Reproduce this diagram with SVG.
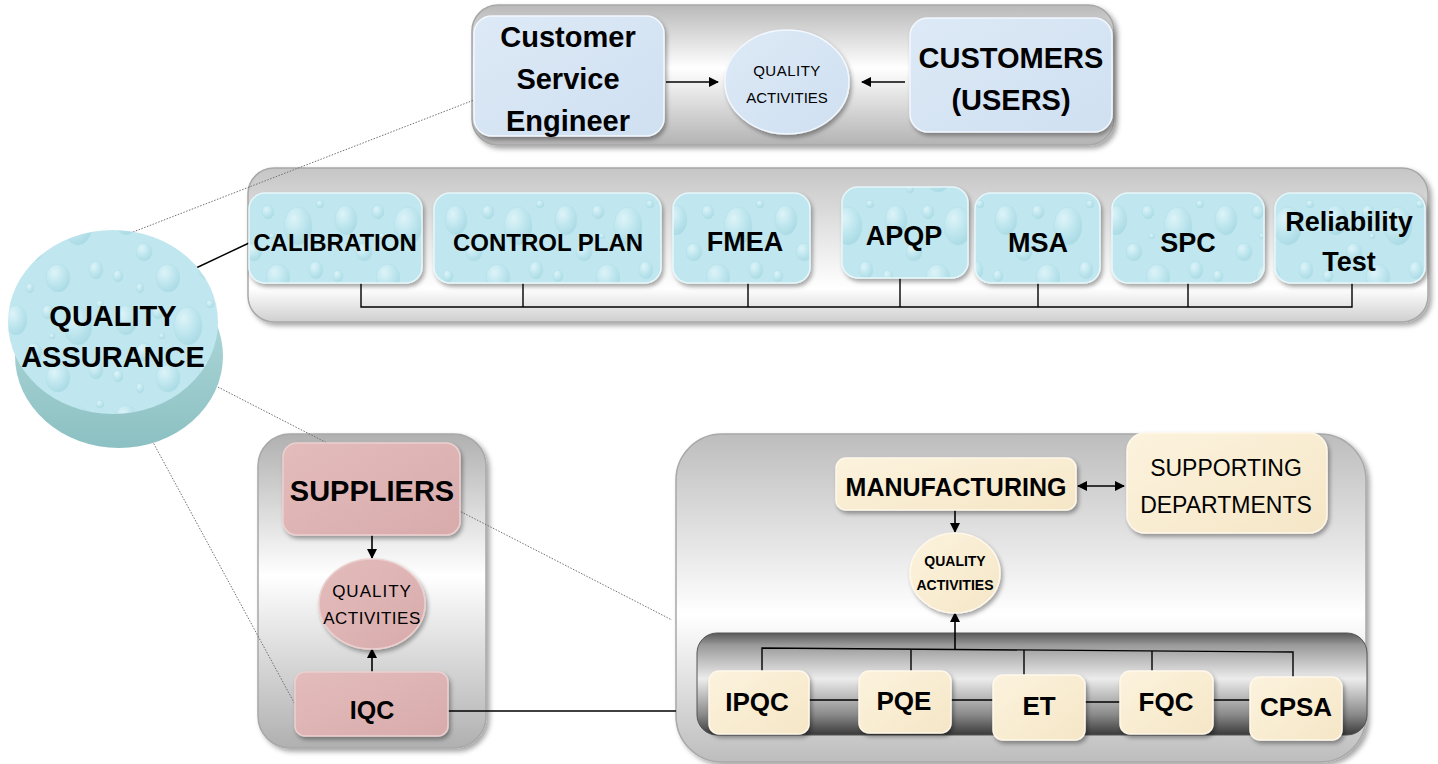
<svg xmlns="http://www.w3.org/2000/svg" width="1438" height="764" viewBox="0 0 1438 764">
<defs>
  <linearGradient id="gTop" x1="0" y1="0" x2="0" y2="1">
    <stop offset="0" stop-color="#b9b9b9"/><stop offset="0.45" stop-color="#ffffff"/><stop offset="1" stop-color="#b3b3b3"/>
  </linearGradient>
  <linearGradient id="gMid" x1="0" y1="0" x2="0" y2="1">
    <stop offset="0" stop-color="#c6c6c6"/><stop offset="0.78" stop-color="#ffffff"/><stop offset="1" stop-color="#cfcfcf"/>
  </linearGradient>
  <linearGradient id="gSup" x1="0" y1="0" x2="0" y2="1">
    <stop offset="0" stop-color="#b0b0b0"/><stop offset="0.45" stop-color="#ffffff"/><stop offset="1" stop-color="#b0b0b0"/>
  </linearGradient>
  <linearGradient id="gMfg" x1="0" y1="0" x2="0" y2="1">
    <stop offset="0" stop-color="#bdbdbd"/><stop offset="0.55" stop-color="#ffffff"/><stop offset="1" stop-color="#bdbdbd"/>
  </linearGradient>
  <linearGradient id="gBar" x1="0" y1="0" x2="0" y2="1">
    <stop offset="0" stop-color="#5a5a5a"/><stop offset="0.12" stop-color="#9a9a9a"/><stop offset="0.45" stop-color="#ececec"/><stop offset="0.8" stop-color="#8a8a8a"/><stop offset="1" stop-color="#3a3a3a"/>
  </linearGradient>
  <linearGradient id="gSide" x1="0" y1="0" x2="0" y2="1">
    <stop offset="0" stop-color="#b8dfe0"/><stop offset="1" stop-color="#8cc0c2"/>
  </linearGradient>
  <radialGradient id="drop" cx="0.35" cy="0.3" r="0.75">
    <stop offset="0" stop-color="#f4feff"/><stop offset="0.45" stop-color="#c6eaf1"/><stop offset="1" stop-color="#94cfdb"/>
  </radialGradient>
  <pattern id="pDrops" width="110" height="100" patternUnits="userSpaceOnUse">
    <rect width="110" height="100" fill="#c0e7ef"/>
    <g fill="url(#drop)" stroke="#a6d8e2" stroke-width="0.6" opacity="0.55">
      <ellipse cx="16" cy="20" rx="11" ry="15"/>
      <ellipse cx="48" cy="12" rx="6" ry="7"/>
      <ellipse cx="78" cy="26" rx="14" ry="19"/>
      <ellipse cx="34" cy="52" rx="8" ry="9"/>
      <ellipse cx="8" cy="76" rx="5" ry="6"/>
      <ellipse cx="58" cy="78" rx="12" ry="14"/>
      <ellipse cx="96" cy="70" rx="7" ry="9"/>
      <ellipse cx="30" cy="88" rx="4" ry="5"/>
      <ellipse cx="100" cy="4" rx="4" ry="4"/>
      <ellipse cx="52" cy="36" rx="3" ry="3"/>
    </g>
  </pattern>
  <linearGradient id="gCust" x1="0" y1="0" x2="1" y2="1">
    <stop offset="0" stop-color="#dde9f6"/><stop offset="1" stop-color="#cfe0f1"/>
  </linearGradient>
  <linearGradient id="gPink" x1="0" y1="0" x2="1" y2="1">
    <stop offset="0" stop-color="#e4bcbc"/><stop offset="1" stop-color="#d8abab"/>
  </linearGradient>
  <linearGradient id="gCream" x1="0" y1="0" x2="1" y2="1">
    <stop offset="0" stop-color="#fcf3de"/><stop offset="1" stop-color="#f5e6c6"/>
  </linearGradient>
  <filter id="sh" x="-10%" y="-10%" width="125%" height="130%">
    <feDropShadow dx="2" dy="3" stdDeviation="2" flood-color="#000" flood-opacity="0.35"/>
  </filter>
  <filter id="shC" x="-5%" y="-5%" width="112%" height="115%">
    <feDropShadow dx="3" dy="3" stdDeviation="2.5" flood-color="#000" flood-opacity="0.35"/>
  </filter>
  <marker id="ah" viewBox="0 0 10 10" refX="9" refY="5" markerWidth="10" markerHeight="10" markerUnits="userSpaceOnUse" orient="auto-start-reverse">
    <path d="M0,0 L10,5 L0,10 z" fill="#000"/>
  </marker>
  <style>
    .cont{stroke:#a8a8a8;stroke-width:1.5}
    .blue{fill:url(#pDrops);stroke:#e6f7fa;stroke-width:1.5;filter:url(#sh)}
    .cust{fill:url(#gCust);stroke:#f2f8ff;stroke-width:1.5;filter:url(#sh)}
    .pink{fill:url(#gPink);stroke:#ecd0d0;stroke-width:1.5;filter:url(#sh)}
    .cream{fill:url(#gCream);stroke:#fff8ea;stroke-width:1.5;filter:url(#sh)}
    .t{font-family:"Liberation Sans",Arial,sans-serif;fill:#000;text-anchor:middle;dominant-baseline:central}
    .b{font-weight:bold}
    .ln{stroke:#000;stroke-width:1.4;fill:none}
    .ar{stroke:#000;stroke-width:1.6;fill:none;marker-end:url(#ah)}
    .ar2{stroke:#000;stroke-width:1.6;fill:none;marker-end:url(#ah);marker-start:url(#ah)}
    .dot{stroke:#707070;stroke-width:1;stroke-dasharray:1.5 1.5;fill:none}
  </style>
</defs>

<!-- containers -->
<g id="containers">
  <rect id="c-top" class="cont" x="472" y="5" width="642" height="140" rx="26" fill="url(#gTop)" filter="url(#shC)"/>
  <rect id="c-mid" class="cont" x="248" y="168" width="1180" height="154" rx="26" fill="url(#gMid)" filter="url(#shC)"/>
  <rect id="c-sup" class="cont" x="258" y="434" width="228" height="314" rx="32" fill="url(#gSup)" filter="url(#shC)"/>
  <rect id="c-mfg" class="cont" x="676" y="434" width="690" height="328" rx="46" fill="url(#gMfg)" filter="url(#shC)"/>
  <rect id="c-bar" x="697" y="633" width="670" height="102" rx="20" fill="url(#gBar)" stroke="#555" stroke-width="1"/>
</g>

<!-- connectors -->
<g id="connectors">
  <line class="dot" x1="133" y1="232" x2="474" y2="100"/>
  <line class="dot" x1="210" y1="383" x2="672" y2="620"/>
  <line class="dot" x1="148" y1="433" x2="297" y2="708"/>
  <line class="ln" x1="196" y1="268" x2="249" y2="243" stroke-width="2"/>
  <line class="ar" x1="666" y1="82" x2="718" y2="82"/>
  <line class="ar" x1="905" y1="82" x2="862" y2="82"/>
  <polyline class="ln" points="361,283 361,307 1352,307 1352,283"/>
  <line class="ln" x1="523" y1="283" x2="523" y2="307"/>
  <line class="ln" x1="748" y1="283" x2="748" y2="307"/>
  <line class="ln" x1="900" y1="278" x2="900" y2="307"/>
  <line class="ln" x1="1038" y1="283" x2="1038" y2="307"/>
  <line class="ln" x1="1188" y1="283" x2="1188" y2="307"/>
  <line class="ar" x1="372" y1="535" x2="372" y2="558"/>
  <line class="ar" x1="372" y1="672" x2="372" y2="649"/>
  <line class="ln" x1="448" y1="711" x2="676" y2="711"/>
  <line class="ar2" x1="1078" y1="486" x2="1124" y2="486"/>
  <line class="ar" x1="955" y1="510" x2="955" y2="532"/>
  <line class="ar" x1="955" y1="649" x2="955" y2="613"/>
  <polyline class="ln" points="762,671 762,648 1293,652 1293,677"/>
  <line class="ln" x1="911" y1="650" x2="911" y2="671"/>
  <line class="ln" x1="1024" y1="650" x2="1024" y2="675"/>
  <line class="ln" x1="1152" y1="651" x2="1152" y2="671"/>
  <line class="ln" x1="809" y1="700" x2="859" y2="700"/>
  <line class="ln" x1="951" y1="700" x2="993" y2="700"/>
  <line class="ln" x1="1085" y1="702" x2="1120" y2="702"/>
  <line class="ln" x1="1213" y1="700" x2="1250" y2="700"/>
</g>

<!-- Quality Assurance cylinder -->
<g id="n-qa">
  <ellipse cx="119" cy="356" rx="104" ry="92" fill="url(#gSide)"/>
  <ellipse cx="113" cy="322" rx="105" ry="92" fill="url(#pDrops)"/>
  <text class="t b" x="113" y="316" font-size="29">QUALITY</text>
  <text class="t b" x="113" y="357" font-size="29">ASSURANCE</text>
</g>

<!-- top group -->
<g id="n-cse">
  <rect class="cust" x="474" y="16" width="190" height="120" rx="18"/>
  <text class="t b" x="568" y="37" font-size="29">Customer</text>
  <text class="t b" x="568" y="79" font-size="29">Service</text>
  <text class="t b" x="568" y="121" font-size="29">Engineer</text>
</g>
<g id="n-qact1">
  <ellipse class="cust" cx="787" cy="82" rx="62" ry="52"/>
  <text class="t" x="787" y="70" font-size="15" letter-spacing="0.5">QUALITY</text>
  <text class="t" x="787" y="97" font-size="15">ACTIVITIES</text>
</g>
<g id="n-customers">
  <rect class="cust" x="910" y="18" width="202" height="114" rx="18"/>
  <text class="t b" x="1011" y="58" font-size="29">CUSTOMERS</text>
  <text class="t b" x="1011" y="100" font-size="29">(USERS)</text>
</g>

<!-- middle row -->
<g id="n-calibration">
  <rect class="blue" x="249" y="193" width="173" height="90" rx="16"/>
  <text class="t b" x="335" y="242" font-size="24">CALIBRATION</text>
</g>
<g id="n-controlplan">
  <rect class="blue" x="434" y="193" width="227" height="90" rx="16"/>
  <text class="t b" x="548" y="242" font-size="24">CONTROL PLAN</text>
</g>
<g id="n-fmea">
  <rect class="blue" x="673" y="193" width="137" height="90" rx="16"/>
  <text class="t b" x="745" y="242" font-size="27">FMEA</text>
</g>
<g id="n-apqp">
  <rect class="blue" x="842" y="187" width="126" height="91" rx="16"/>
  <text class="t b" x="904" y="236" font-size="27">APQP</text>
</g>
<g id="n-msa">
  <rect class="blue" x="975" y="193" width="125" height="90" rx="16"/>
  <text class="t b" x="1038" y="243" font-size="27">MSA</text>
</g>
<g id="n-spc">
  <rect class="blue" x="1112" y="193" width="152" height="90" rx="16"/>
  <text class="t b" x="1188" y="243" font-size="27">SPC</text>
</g>
<g id="n-reliability">
  <rect class="blue" x="1275" y="193" width="150" height="90" rx="16"/>
  <text class="t b" x="1349" y="222" font-size="27">Reliability</text>
  <text class="t b" x="1349" y="262" font-size="27">Test</text>
</g>

<!-- suppliers group -->
<g id="n-suppliers">
  <rect class="pink" x="283" y="443" width="177" height="92" rx="14"/>
  <text class="t b" x="372" y="491" font-size="29">SUPPLIERS</text>
</g>
<g id="n-qact2">
  <ellipse class="pink" cx="372" cy="604" rx="53" ry="45"/>
  <text class="t" x="372" y="591" font-size="17" letter-spacing="1">QUALITY</text>
  <text class="t" x="372" y="618" font-size="17" letter-spacing="0.5">ACTIVITIES</text>
</g>
<g id="n-iqc">
  <rect class="pink" x="295" y="672" width="153" height="64" rx="10"/>
  <text class="t b" x="372" y="710" font-size="25">IQC</text>
</g>

<!-- manufacturing group -->
<g id="n-manufacturing">
  <rect class="cream" x="836" y="458" width="240" height="52" rx="10"/>
  <text class="t b" x="956" y="487" font-size="25">MANUFACTURING</text>
</g>
<g id="n-supporting">
  <rect class="cream" x="1127" y="433" width="200" height="100" rx="18"/>
  <text class="t" x="1226" y="468" font-size="23">SUPPORTING</text>
  <text class="t" x="1226" y="505" font-size="23">DEPARTMENTS</text>
</g>
<g id="n-qact3">
  <ellipse class="cream" cx="955" cy="573" rx="45" ry="40"/>
  <text class="t b" x="955" y="561" font-size="14">QUALITY</text>
  <text class="t b" x="955" y="585" font-size="14">ACTIVITIES</text>
</g>
<g id="n-ipqc">
  <rect class="cream" x="709" y="671" width="100" height="63" rx="10"/>
  <text class="t b" x="757" y="702" font-size="26">IPQC</text>
</g>
<g id="n-pqe">
  <rect class="cream" x="859" y="671" width="92" height="62" rx="10"/>
  <text class="t b" x="904" y="701" font-size="26">PQE</text>
</g>
<g id="n-et">
  <rect class="cream" x="993" y="675" width="92" height="65" rx="10"/>
  <text class="t b" x="1039" y="706" font-size="26">ET</text>
</g>
<g id="n-fqc">
  <rect class="cream" x="1120" y="671" width="93" height="63" rx="10"/>
  <text class="t b" x="1166" y="702" font-size="26">FQC</text>
</g>
<g id="n-cpsa">
  <rect class="cream" x="1250" y="677" width="92" height="63" rx="10"/>
  <text class="t b" x="1296" y="707" font-size="26">CPSA</text>
</g>
</svg>
